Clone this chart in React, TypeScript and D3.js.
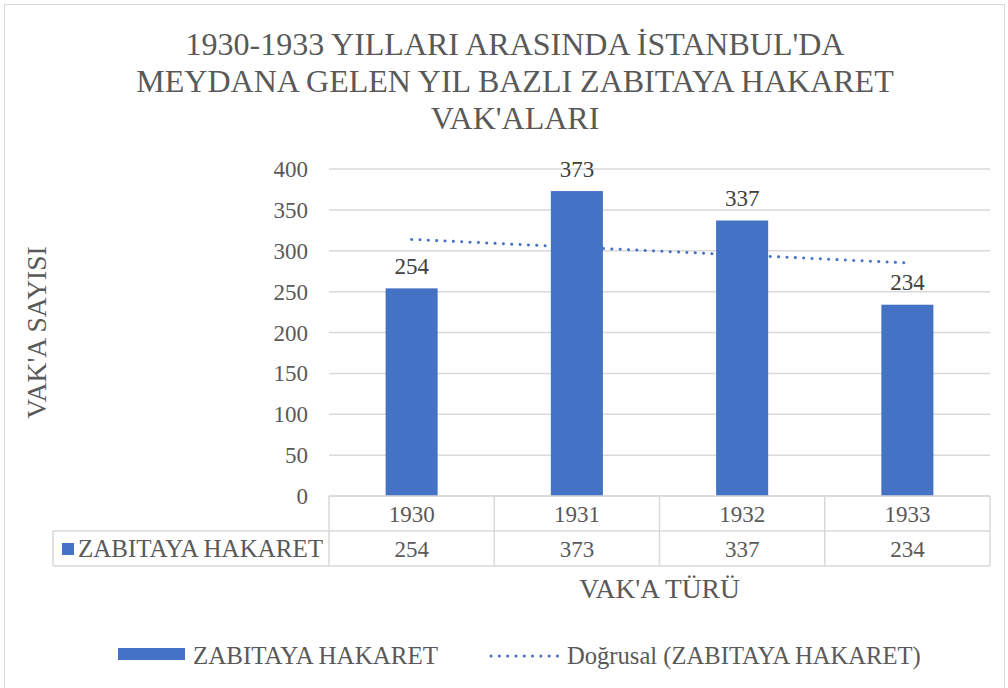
import React from "react";
import * as d3 from "d3";

const years = ["1930", "1931", "1932", "1933"];
const values = [254, 373, 337, 234];
const yTicks = [0, 50, 100, 150, 200, 250, 300, 350, 400];
const titleLines = [
  "1930-1933 YILLARI ARASINDA İSTANBUL'DA",
  "MEYDANA GELEN YIL BAZLI ZABITAYA HAKARET",
  "VAK'ALARI",
];
const seriesName = "ZABITAYA HAKARET";
const trendName = "Doğrusal (ZABITAYA HAKARET)";
const yTitle = "VAK'A SAYISI";
const xTitle = "VAK'A TÜRÜ";

const W = 1008;
const H = 688;
const FONT = "'Liberation Serif', 'Times New Roman', serif";
const BLUE = "#4472C4";
const TXT = "#595959";
const GRID = "#D9D9D9";

export default function App() {
  const plot = { left: 329, right: 990, top: 169, bottom: 496 };
  const x = d3.scaleBand<string>().domain(years).range([plot.left, plot.right]).paddingInner(0.685).paddingOuter(0.3425);
  const xc = d3.scaleBand<string>().domain(years).range([plot.left, plot.right]);
  const y = d3.scaleLinear().domain([0, 400]).range([plot.bottom, plot.top]);

  // linear regression trendline
  const xs = values.map((_, i) => i + 1);
  const mx = d3.mean(xs)!;
  const my = d3.mean(values)!;
  const slope = d3.sum(xs.map((xi, i) => (xi - mx) * (values[i] - my))) / d3.sum(xs.map((xi) => (xi - mx) ** 2));
  const icpt = my - slope * mx;
  const trend = years.map((yr, i) => [xc(yr)! + xc.bandwidth() / 2, y(icpt + slope * (i + 1))] as [number, number]);
  const line = d3.line();

  const row1 = plot.bottom;
  const row2 = 531;
  const row3 = 566;
  const tableLeft = 53;

  return (
    <svg width={W} height={H} style={{ position: "absolute", left: 0, top: 0, background: "#fff" }} fontFamily={FONT}>
      <rect x={4.5} y={4.5} width={1000} height={700} fill="#fff" stroke={GRID} strokeWidth={1} />
      {titleLines.map((t, i) => (
        <text key={i} x={515} y={55 + i * 37} textAnchor="middle" fontSize={32} fill={TXT}>
          {t}
        </text>
      ))}
      {yTicks.map((t) => (
        <line key={t} x1={plot.left} x2={plot.right} y1={y(t)} y2={y(t)} stroke={GRID} strokeWidth={1.5} />
      ))}
      {yTicks.map((t) => (
        <text key={t} x={308} y={y(t) + 8} textAnchor="end" fontSize={23} fill={TXT}>
          {t}
        </text>
      ))}
      <text transform={`translate(46,${(plot.top + plot.bottom) / 2}) rotate(-90)`} textAnchor="middle" fontSize={27.5} fill={TXT}>
        {yTitle}
      </text>
      {years.map((yr, i) => (
        <rect key={yr} x={x(yr)} y={y(values[i])} width={x.bandwidth()} height={plot.bottom - y(values[i])} fill={BLUE} />
      ))}
      {years.map((yr, i) => (
        <text key={yr} x={x(yr)! + x.bandwidth() / 2} y={y(values[i]) - 14.5} textAnchor="middle" fontSize={23} fill="#404040">
          {values[i]}
        </text>
      ))}
      <path d={line(trend)!} fill="none" stroke={BLUE} strokeWidth={3} strokeDasharray="0.1 8.25" strokeLinecap="round" />
      <g stroke={GRID} strokeWidth={1.5}>
        <line x1={plot.left} x2={plot.right} y1={row1} y2={row1} />
        <line x1={tableLeft} x2={plot.right} y1={row2} y2={row2} />
        <line x1={tableLeft} x2={plot.right} y1={row3} y2={row3} />
        <line x1={tableLeft} x2={tableLeft} y1={row2} y2={row3} />
        {years.map((yr) => (
          <line key={yr} x1={xc(yr)} x2={xc(yr)} y1={row1} y2={row3} />
        ))}
        <line x1={plot.right} x2={plot.right} y1={row1} y2={row3} />
      </g>
      {years.map((yr, i) => (
        <g key={yr}>
          <text x={xc(yr)! + xc.bandwidth() / 2} y={(row1 + row2) / 2 + 8} textAnchor="middle" fontSize={23} fill={TXT}>
            {yr}
          </text>
          <text x={xc(yr)! + xc.bandwidth() / 2} y={(row2 + row3) / 2 + 8} textAnchor="middle" fontSize={23} fill={TXT}>
            {values[i]}
          </text>
        </g>
      ))}
      <rect x={62} y={543} width={12} height={12} fill={BLUE} />
      <text x={78} y={(row2 + row3) / 2 + 8} fontSize={25} fill={TXT}>
        {seriesName}
      </text>
      <text x={(plot.left + plot.right) / 2} y={598} textAnchor="middle" fontSize={27.5} fill={TXT}>
        {xTitle}
      </text>
      <rect x={118} y={648} width={67} height={12} fill={BLUE} />
      <text x={193} y={664} fontSize={25} fill={TXT}>
        {seriesName}
      </text>
      <line x1={491} x2={562} y1={656} y2={656} stroke={BLUE} strokeWidth={3} strokeDasharray="0.1 8.2" strokeLinecap="round" />
      <text x={567} y={664} fontSize={24.6} fill={TXT}>
        {trendName}
      </text>
    </svg>
  );
}
